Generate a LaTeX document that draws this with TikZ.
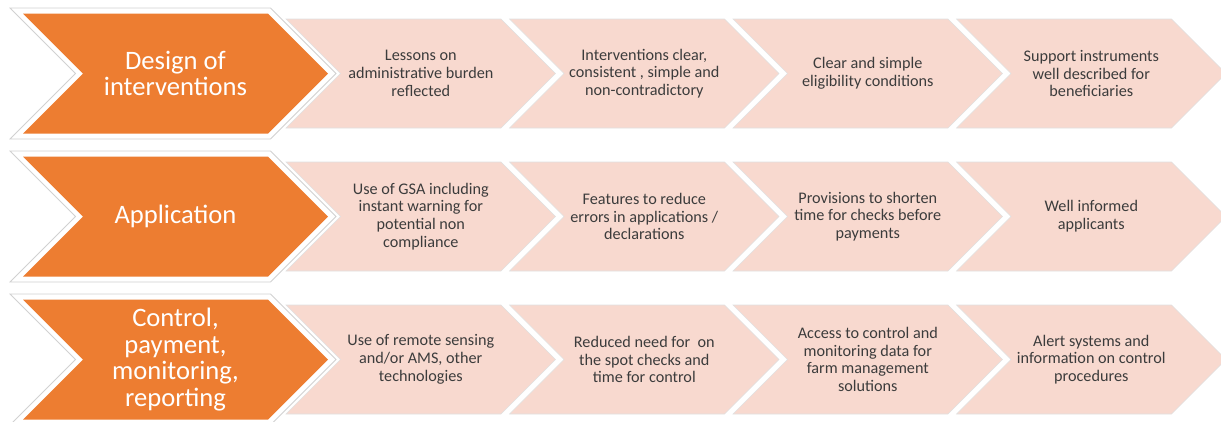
\documentclass[tikz,border=0pt]{standalone}
\usepackage{fontspec}
\setmainfont{Carlito}
\usetikzlibrary{shapes.symbols}

\definecolor{PhaseOrange}{HTML}{ED7D31}
\definecolor{StepPink}{HTML}{F8D9CF}
\definecolor{StepText}{HTML}{3C3C3C}

\begin{document}
\begin{tikzpicture}[x=1pt,y=-1pt]
    \tikzset{FrameStyle/.style = {signal,signal from=west,signal to=east,fill=white,draw=black!18,line width=.8pt,minimum width=326pt,minimum height=131pt,inner sep=0pt}}
    \tikzset{PhaseStyle/.style = {signal,signal from=west,signal to=east,fill=PhaseOrange,text=white,minimum width=305pt,minimum height=120pt,inner sep=0pt,align=center,font=\fontsize{26.6}{26.8}\selectfont}}
    \tikzset{StepStyle/.style = {signal,signal from=west,signal to=east,fill=StepPink,draw=black!12,line width=.6pt,text=StepText,minimum width=269.5pt,minimum height=109pt,inner sep=0pt,align=center,font=\fontsize{16.2}{17.8}\selectfont}}

    \useasboundingbox (0,0) rectangle (1221,421);

    % design of interventions
    \node[StepStyle] (d1) at (420.8,73.5) {Lessons on\\administrative burden\\reflected};
    \node[StepStyle] (d2) at (644.3,73.5) {Interventions clear,\\consistent , simple and\\non-contradictory};
    \node[StepStyle] (d3) at (867.8,73.5) {Clear and simple\\eligibility conditions};
    \node[StepStyle] (d4) at (1091.3,73.5) {Support instruments\\well described for\\beneficiaries};
    \node[FrameStyle] (fd) at (173,73.5) {};
    \node[PhaseStyle] (design) at (175.5,73.5) {Design of\\interventions};

    % application
    \node[StepStyle] (a1) at (420.8,216.5) {Use of GSA including\\instant warning for\\potential non\\compliance};
    \node[StepStyle] (a2) at (644.3,216.5) {Features to reduce\\errors in applications /\\declarations};
    \node[StepStyle] (a3) at (867.8,216.5) {Provisions to shorten\\time for checks before\\payments};
    \node[StepStyle] (a4) at (1091.3,216.5) {Well informed\\applicants};
    \node[FrameStyle] (fa) at (173,216.5) {};
    \node[PhaseStyle] (appl) at (175.5,216.5) {Application};

    % control, payment, monitoring, reporting
    \node[StepStyle] (c1) at (420.8,359.5) {Use of remote sensing\\and/or AMS, other\\technologies};
    \node[StepStyle] (c2) at (644.3,359.5) {Reduced need for\ \ on\\the spot checks and\\time for control};
    \node[StepStyle] (c3) at (867.8,359.5) {Access to control and\\monitoring data for\\farm management\\solutions};
    \node[StepStyle] (c4) at (1091.3,359.5) {Alert systems and\\information on control\\procedures};
    \node[FrameStyle] (fc) at (173,359.5) {};
    \node[PhaseStyle] (ctrl) at (175.5,359.5) {Control,\\payment,\\monitoring,\\reporting};
\end{tikzpicture}
\end{document}
